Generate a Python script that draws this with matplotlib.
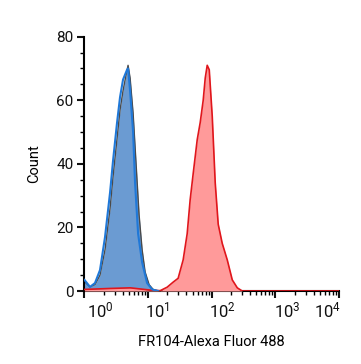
import numpy as np
import matplotlib
matplotlib.use("Agg")
import matplotlib.pyplot as plt
import matplotlib.transforms as mtrans

plt.rcParams['font.family'] = ['Roboto', 'DejaVu Sans']
plt.rcParams['mathtext.fontset'] = 'custom'
plt.rcParams['mathtext.rm'] = 'Roboto'
plt.rcParams['mathtext.it'] = 'Roboto'

# histograms: log10(intensity), count
blue_fill_log = [0.0, 0.087, 0.165, 0.244, 0.323, 0.402, 0.449, 0.512, 0.559, 0.606,
                 0.654, 0.685, 0.717, 0.764, 0.811, 0.858, 0.906, 0.953, 1.016, 1.079, 1.157]
blue_fill_cnt = [3.0, 1.3, 2.0, 5.0, 13, 26, 36, 48, 57, 63,
                 68, 71, 67, 56, 40, 24, 13, 6, 2, 0.5, 0]

blue_line_log = [0.0, 0.087, 0.165, 0.244, 0.323, 0.402, 0.449, 0.512, 0.559, 0.606,
                 0.669, 0.685, 0.717, 0.764, 0.795, 0.843, 0.906, 0.984, 1.063, 1.157]
blue_line_cnt = [3.5, 1.3, 2.5, 6.6, 17, 31, 41, 53, 61, 66.5,
                 69.6, 70, 63, 50, 34, 18, 9, 2.5, 0.5, 0]

red_log = [0.0, 0.40, 0.72, 1.031, 1.189, 1.299, 1.394, 1.472, 1.551, 1.614, 1.661,
           1.709, 1.772, 1.819, 1.866, 1.898, 1.929, 1.961, 2.008, 2.055, 2.102,
           2.165, 2.244, 2.323, 2.402, 2.480, 4.0]
red_cnt = [0.5, 0.8, 1.0, 0.3, 0.1, 1.2, 2.8, 4, 9.8, 18, 28.7,
           37, 47.6, 53, 60, 67, 71, 69.6, 55, 34, 21,
           15, 9.8, 3.5, 1, 0, 0]

xticks = [1, 10, 100, 1000, 10000]
xticklabels = [r"$10^{0}$", r"$10^{1}$", r"$10^{2}$", r"$10^{3}$", r"$10^{4}$"]
yticks = [0, 20, 40, 60, 80]

fig = plt.figure(figsize=(3.61, 3.64), dpi=100)
ax = fig.add_axes([0.234, 0.2005, 0.705, 0.6987])

bx = 10 ** np.array(blue_fill_log)
ax.fill_between(bx, blue_fill_cnt, 0, color="#6b9bd2", lw=0, zorder=1)
ax.plot(bx, blue_fill_cnt, color="#4a4a4a", lw=1.0, zorder=2)

rx = 10 ** np.array(red_log)
ax.fill_between(rx, red_cnt, 0, color="#ff9a9a", lw=0, zorder=3)
ax.plot(rx, red_cnt, color="#e0161c", lw=1.2, zorder=4)

ax.plot(10 ** np.array(blue_line_log), blue_line_cnt, color="#1f78d8", lw=1.5, zorder=5)

ax.set_xscale("log")
ax.set_xlim(1, 10000)
ax.set_ylim(0, 80)
ax.set_xticks(xticks)
ax.set_xticklabels(xticklabels)
ax.set_yticks(yticks)
ax.set_yticks(np.arange(0, 81, 5), minor=True)

for s in ["top", "right"]:
    ax.spines[s].set_visible(False)
for s in ["left", "bottom"]:
    ax.spines[s].set_linewidth(1.5)

ax.tick_params(which="major", length=5, width=1.5, labelsize=11, pad=3, colors="#111111")
ax.tick_params(axis="x", which="major", labelsize=12, pad=2)
ax.tick_params(which="minor", length=3, width=1.0)

# shift the x tick labels the way the original software places them
shifts = [2.5, -3, -3, -1, 2]
for lab, dx in zip(ax.get_xticklabels(), shifts):
    lab.set_ha("left" if dx != 2 else "right")
    off = mtrans.ScaledTranslation(dx / 100.0, 0, fig.dpi_scale_trans)
    lab.set_transform(lab.get_transform() + off)

ax.set_xlabel("FR104-Alexa Fluor 488", fontsize=10.5, labelpad=10)
ax.set_ylabel("Count", fontsize=10.5, labelpad=11)

plt.savefig("out.png", dpi=100)
